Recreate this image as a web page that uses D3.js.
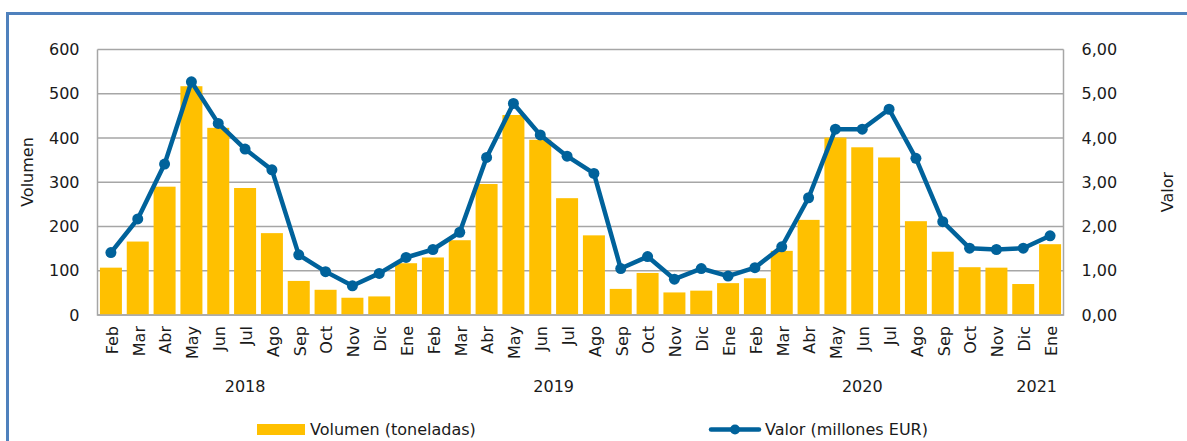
<!DOCTYPE html>
<html>
<head>
<meta charset="utf-8">
<script src="https://cdn.jsdelivr.net/npm/d3@7/dist/d3.min.js"></script>
<style>
  html, body { margin: 0; padding: 0; background: #fff; }
  svg { display: block; font-family: "DejaVu Sans", sans-serif; }
</style>
</head>
<body>
<svg id="chart" width="1187" height="441"></svg>
<script>
// Monthly categories, Feb 2018 – Ene 2021
const months = [
  "Feb","Mar","Abr","May","Jun","Jul","Ago","Sep","Oct","Nov","Dic",
  "Ene","Feb","Mar","Abr","May","Jun","Jul","Ago","Sep","Oct","Nov","Dic",
  "Ene","Feb","Mar","Abr","May","Jun","Jul","Ago","Sep","Oct","Nov","Dic",
  "Ene"
];
const years = ["2018", "2019", "2020", "2021"];

// Volumen (toneladas)
const volumen = [
  107, 166, 290, 517, 423, 287, 185, 77, 57, 39, 42,
  117, 130, 169, 296, 452, 396, 264, 180, 59, 95, 51, 55,
  72, 83, 145, 215, 401, 379, 356, 212, 143, 108, 107, 70,
  160
];

// Valor (millones EUR)
const valor = [
  1.41, 2.17, 3.41, 5.27, 4.33, 3.75, 3.28, 1.36, 0.98, 0.66, 0.94,
  1.30, 1.48, 1.87, 3.56, 4.78, 4.07, 3.59, 3.20, 1.05, 1.32, 0.81, 1.05,
  0.88, 1.07, 1.54, 2.65, 4.20, 4.20, 4.65, 3.54, 2.11, 1.51, 1.48, 1.51,
  1.79
];

const leftTicks = [0, 100, 200, 300, 400, 500, 600];
const rightTicks = [0, 1, 2, 3, 4, 5, 6];

const barColor = "#FFC000";
const lineColor = "#00629B";
const gridColor = "#A6A6A6";
const textColor = "#1a1a1a";

const svg = d3.select("#chart");

// Outer frame (top and left edges visible)
svg.append("path")
  .attr("d", "M7.5,441 L7.5,13.5 L1187,13.5")
  .attr("fill", "none")
  .attr("stroke", "#4F81BD")
  .attr("stroke-width", 3);

const plot = { left: 97.5, right: 1063.5, top: 49.5, bottom: 315 };
const ids = months.map((m, i) => i);

const x = d3.scaleBand()
  .domain(ids)
  .range([plot.left, plot.right])
  .paddingInner(0.18)
  .paddingOuter(0.09);

const xCenter = i => x(i) + x.bandwidth() / 2;
const step = (plot.right - plot.left) / months.length;

const yL = d3.scaleLinear().domain([0, 600]).range([plot.bottom, plot.top]);
const yR = d3.scaleLinear().domain([0, 6]).range([plot.bottom, plot.top]);

// Gridlines
svg.append("g")
  .selectAll("line")
  .data(leftTicks)
  .join("line")
  .attr("x1", plot.left).attr("x2", plot.right)
  .attr("y1", d => yL(d)).attr("y2", d => yL(d))
  .attr("stroke", gridColor)
  .attr("stroke-width", 1.5);

// Plot border (left, right, bottom)
svg.append("path")
  .attr("d", `M${plot.left},${plot.top} L${plot.left},${plot.bottom} L${plot.right},${plot.bottom} L${plot.right},${plot.top}`)
  .attr("fill", "none")
  .attr("stroke", gridColor)
  .attr("stroke-width", 1.5);

// Bars
svg.append("g")
  .selectAll("rect")
  .data(volumen)
  .join("rect")
  .attr("x", (d, i) => x(i))
  .attr("width", x.bandwidth())
  .attr("y", d => yL(d))
  .attr("height", d => yL(0) - yL(d) - 0.75)
  .attr("fill", barColor);

// Line with markers
const line = d3.line()
  .x((d, i) => xCenter(i))
  .y(d => yR(d));

svg.append("path")
  .datum(valor)
  .attr("d", line)
  .attr("fill", "none")
  .attr("stroke", lineColor)
  .attr("stroke-width", 4.5)
  .attr("stroke-linejoin", "round");

svg.append("g")
  .selectAll("circle")
  .data(valor)
  .join("circle")
  .attr("cx", (d, i) => xCenter(i))
  .attr("cy", d => yR(d))
  .attr("r", 5.5)
  .attr("fill", lineColor);

// Left axis
const axisLeft = d3.axisLeft(yL).tickValues(leftTicks).tickSize(0).tickPadding(0);
svg.append("g")
  .attr("transform", `translate(${plot.left - 18},0)`)
  .call(axisLeft)
  .call(g => g.select(".domain").remove())
  .call(g => g.selectAll("text")
    .attr("font-size", 16)
    .attr("font-family", "DejaVu Sans, sans-serif")
    .attr("fill", textColor));

// Right axis
const fmtComma = d => d3.format(".2f")(d).replace(".", ",");
const axisRight = d3.axisRight(yR).tickValues(rightTicks).tickSize(0).tickPadding(0).tickFormat(fmtComma);
svg.append("g")
  .attr("transform", `translate(${plot.right + 18},0)`)
  .call(axisRight)
  .call(g => g.select(".domain").remove())
  .call(g => g.selectAll("text")
    .attr("font-size", 16)
    .attr("font-family", "DejaVu Sans, sans-serif")
    .attr("fill", textColor));

// Month labels (rotated)
svg.append("g")
  .selectAll("text")
  .data(months)
  .join("text")
  .attr("transform", (d, i) => `translate(${xCenter(i) + 1},${plot.bottom + 11}) rotate(-90)`)
  .attr("text-anchor", "end")
  .attr("dy", "0.36em")
  .attr("font-size", 16)
  .attr("fill", textColor)
  .text(d => d);

// Year labels
const yearPos = [5.5, 17, 28.5, 35];
svg.append("g")
  .selectAll("text")
  .data(years)
  .join("text")
  .attr("x", (d, i) => plot.left + yearPos[i] * step)
  .attr("y", 392)
  .attr("text-anchor", "middle")
  .attr("font-size", 16)
  .attr("fill", textColor)
  .text(d => d);

// Axis titles
svg.append("text")
  .attr("transform", "translate(27,172) rotate(-90)")
  .attr("text-anchor", "middle")
  .attr("dy", "0.35em")
  .attr("font-size", 16)
  .attr("fill", textColor)
  .text("Volumen");

svg.append("text")
  .attr("transform", "translate(1167,192) rotate(-90)")
  .attr("text-anchor", "middle")
  .attr("dy", "0.35em")
  .attr("font-size", 16)
  .attr("fill", textColor)
  .text("Valor");

// Legend
const legend = svg.append("g");
legend.append("rect")
  .attr("x", 257).attr("y", 424)
  .attr("width", 48).attr("height", 11)
  .attr("fill", barColor);
legend.append("text")
  .attr("x", 310).attr("y", 429.5)
  .attr("dy", "0.35em")
  .attr("font-size", 16)
  .attr("fill", textColor)
  .text("Volumen (toneladas)");

legend.append("line")
  .attr("x1", 711).attr("x2", 759)
  .attr("y1", 429.5).attr("y2", 429.5)
  .attr("stroke", lineColor)
  .attr("stroke-width", 4.5)
  .attr("stroke-linecap", "round");
legend.append("circle")
  .attr("cx", 735).attr("cy", 429.5)
  .attr("r", 5)
  .attr("fill", lineColor);
legend.append("text")
  .attr("x", 765).attr("y", 429.5)
  .attr("dy", "0.35em")
  .attr("font-size", 16)
  .attr("fill", textColor)
  .text("Valor (millones EUR)");
</script>
</body>
</html>
